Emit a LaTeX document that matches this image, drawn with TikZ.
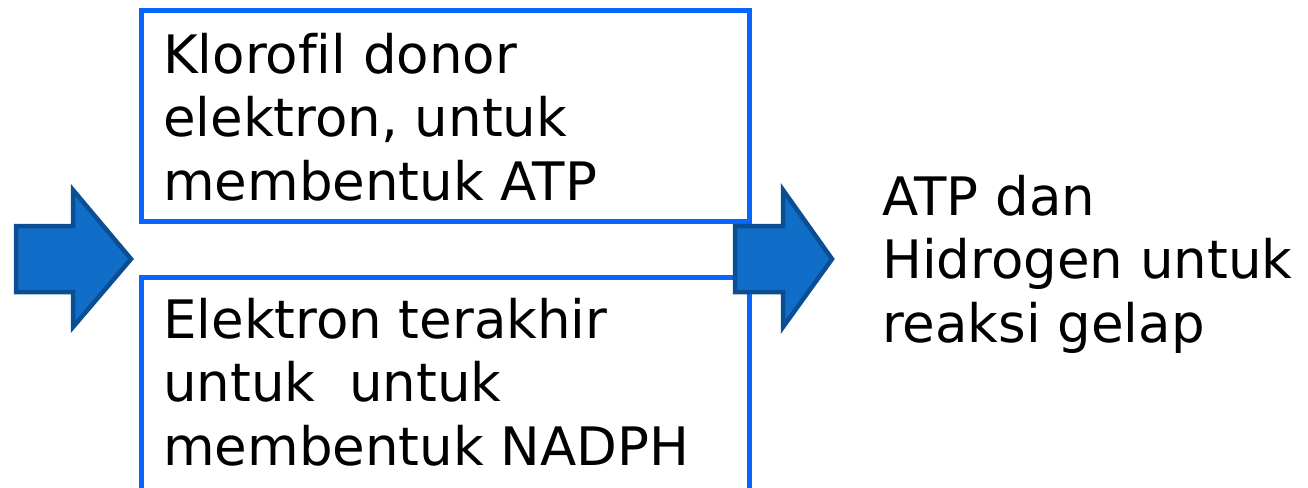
\documentclass[tikz,border=0pt]{standalone}
\usepackage{fontspec}
\setmainfont[Ligatures={NoCommon}]{DejaVu Sans}
\definecolor{boxblue}{RGB}{8,102,255}
\definecolor{arrfill}{RGB}{17,110,200}
\definecolor{arrline}{RGB}{12,78,148}
\tikzset{
  box/.style={draw=boxblue, line width=5pt},
  txt/.style={anchor=north west, inner sep=0pt, align=left, font=\fontsize{53}{63.5}\selectfont},
  bigarrow/.style={fill=arrfill, draw=arrline, line width=4.5pt, line join=miter}
}
\begin{document}
\begin{tikzpicture}[x=1pt,y=-1pt]
\fill[white] (0,0) rectangle (1308,487);
\useasboundingbox (0,0) rectangle (1308,487);
\begin{scope}
\clip (0,0) rectangle (1308,487);
\draw[box] (141,11) rectangle (749,221);
\draw[box] (141,277) rectangle (749,495);
\node[txt] (t1) at (163,32.7) {Klorofil donor\\elektron, untuk\\membentuk ATP};
\node[txt] (t2) at (163,297.7) {Elektron terakhir\\untuk\ \ untuk\\membentuk NADPH};
\node[txt] (t3) at (882,174.7) {ATP dan\\Hidrogen untuk\\reaksi gelap};
\draw[bigarrow] (16,226) -- (73,226) -- (73,190) -- (131,259) -- (73,327) -- (73,292) -- (16,292) -- cycle;
\draw[bigarrow] (735,226) -- (783,226) -- (783,190) -- (832,259) -- (783,327) -- (783,292) -- (735,292) -- cycle;
\end{scope}
\end{tikzpicture}
\end{document}
